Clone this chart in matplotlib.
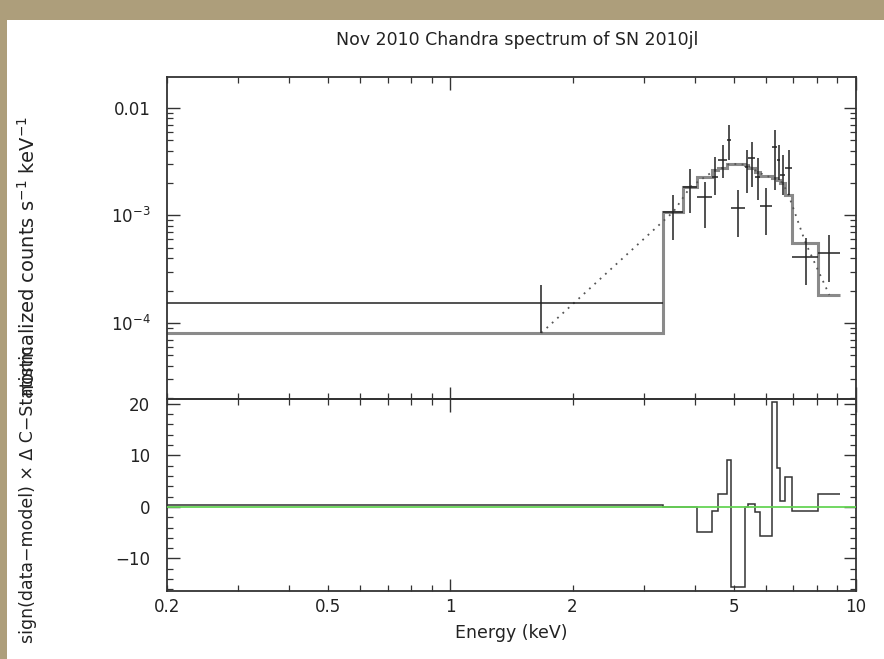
import numpy as np
import matplotlib
matplotlib.use("Agg")
import matplotlib.pyplot as plt
from matplotlib.ticker import FixedLocator, FuncFormatter, LogLocator, NullFormatter, MultipleLocator
from matplotlib.patches import Rectangle

# spectral bins (keV), first bin starts well below the plotted range
bin_edges = [0.01, 3.34, 3.75, 4.06, 4.42, 4.57, 4.81, 4.92, 5.33, 5.42,
             5.64, 5.80, 6.21, 6.39, 6.50, 6.68, 6.96, 8.06, 9.13]
# normalized counts s^-1 keV^-1
rate    = [1.53e-4, 1.08e-3, 1.84e-3, 1.49e-3, 2.28e-3, 3.28e-3, 5.04e-3, 1.17e-3, 2.83e-3,
           3.43e-3, 2.28e-3, 1.23e-3, 4.34e-3, 3.28e-3, 2.38e-3, 2.77e-3, 4.11e-4, 4.48e-4]
rate_hi = [2.26e-4, 1.55e-3, 2.71e-3, 2.05e-3, 3.50e-3, 4.53e-3, 6.95e-3, 1.73e-3, 4.07e-3,
           4.83e-3, 3.43e-3, 1.80e-3, 6.24e-3, 4.53e-3, 3.65e-3, 4.07e-3, 6.18e-4, 6.60e-4]
rate_lo = [8.10e-5, 5.90e-4, 1.05e-3, 7.65e-4, 1.55e-3, 2.23e-3, 3.28e-3, 6.30e-4, 1.62e-3,
           1.84e-3, 1.39e-3, 6.60e-4, 1.73e-3, 2.14e-3, 1.55e-3, 1.55e-3, 2.26e-4, 2.40e-4]
model   = [8.07e-5, 1.08e-3, 1.84e-3, 2.28e-3, 2.65e-3, 2.77e-3, 3.01e-3, 3.01e-3, 2.95e-3,
           2.77e-3, 2.54e-3, 2.33e-3, 2.23e-3, 2.14e-3, 2.00e-3, 1.55e-3, 5.55e-4, 1.82e-4]
# sign(data-model) x delta C-statistic
resid   = [0.35, 0.0, 0.0, -4.8, -0.8, 2.5, 9.1, -15.6, 0.0,
           0.6, -1.0, -5.7, 20.4, 7.5, 1.2, 5.8, -0.8, 2.4]

edges = np.array(bin_edges)
centers = 0.5*(edges[:-1] + edges[1:])
rate = np.array(rate)
yerr = [rate - np.array(rate_lo), np.array(rate_hi) - rate]
xerr = [centers - edges[:-1], edges[1:] - centers]

txt = '#222222'
plt.rcParams['font.family'] = 'DejaVu Sans'

fig = plt.figure(figsize=(8.84, 6.59), dpi=100)
fig.patch.set_facecolor('#ad9e7b')
fig.patches.append(Rectangle((7/884, 0), 1, 1-20/659, transform=fig.transFigure,
                             facecolor='white', edgecolor='none', zorder=-5))

L, W = 167/884, 689/884
ax1 = fig.add_axes([L, 1-399/659, W, 322/659])
ax2 = fig.add_axes([L, 1-591/659, W, 192/659], sharex=ax1)
ax1.patch.set_alpha(0)
ax2.patch.set_alpha(0)

# --- spectrum
ax1.stairs(model, edges, baseline=None, color='#8a8a8a', linewidth=2.2, zorder=2)
ax1.plot(centers, model, linestyle=(0, (1, 3)), color='#555555', linewidth=1.3, zorder=2)
ax1.errorbar(centers, rate, xerr=xerr, yerr=yerr, fmt='none', ecolor='#222222',
             elinewidth=1.1, capsize=0, zorder=3)
ax1.set_yscale('log')
ax1.set_ylim(1.96e-5, 0.0194)
ax1.yaxis.set_major_locator(FixedLocator([1e-4, 1e-3, 1e-2]))
ax1.yaxis.set_major_formatter(FuncFormatter(
    lambda v, p: {1e-4: r'$10^{-4}$', 1e-3: r'$10^{-3}$', 1e-2: '0.01'}.get(v, '')))
ax1.yaxis.set_minor_locator(LogLocator(base=10, subs=np.arange(2, 10)))
ax1.yaxis.set_minor_formatter(NullFormatter())

# --- residuals
ax2.axhline(0, color='#66d455', linewidth=1.3, zorder=3)
ax2.stairs(resid, edges, baseline=None, color='#333333', linewidth=1.1, zorder=2)
ax2.set_ylim(-16.3, 20.9)
ax2.yaxis.set_major_locator(FixedLocator([-10, 0, 10, 20]))
ax2.yaxis.set_minor_locator(MultipleLocator(2))

ax2.set_xscale('log')
ax2.set_xlim(0.2, 10)
xlab = {0.2: '0.2', 0.5: '0.5', 1: '1', 2: '2', 5: '5', 10: '10'}
for ax in (ax1, ax2):
    ax.xaxis.set_major_locator(FixedLocator([1, 10]))
    ax.xaxis.set_minor_locator(FixedLocator([0.2, 0.3, 0.4, 0.5, 0.6, 0.7, 0.8, 0.9,
                                             2, 3, 4, 5, 6, 7, 8, 9]))
    ax.tick_params(which='both', direction='in', top=True, right=True,
                   color='#333333', labelcolor=txt, labelsize=12)
    ax.tick_params(which='major', length=9, width=1.0)
    ax.tick_params(which='minor', length=4.5, width=0.9)
    ax.tick_params(axis='y', which='both', pad=12)
    ax.tick_params(axis='x', which='both', pad=5)
    for s in ax.spines.values():
        s.set_linewidth(1.3)
        s.set_color('#333333')

ax2.xaxis.set_major_formatter(FuncFormatter(lambda v, p: xlab.get(round(v, 1), '')))
ax2.xaxis.set_minor_formatter(FuncFormatter(lambda v, p: xlab.get(round(v, 1), '')))
plt.setp(ax1.get_xticklabels(which='both'), visible=False)

fig.text(517/884, 1-40/659, 'Nov 2010 Chandra spectrum of SN 2010jl',
         ha='center', va='center', fontsize=12.5, color=txt)
fig.text(511/884, 1-633/659, 'Energy (keV)', ha='center', va='center',
         fontsize=12.5, color=txt)
fig.text(28/884, 1-256/659, r'normalized counts s$^{-1}$ keV$^{-1}$', rotation=90,
         ha='center', va='center', fontsize=14, color=txt)
fig.text(28/884, 1-494/659, 'sign(data\u2212model) \u00d7 \u0394 C\u2212Statistic', rotation=90,
         ha='center', va='center', fontsize=12.5, color=txt)

fig.savefig('out.png', dpi=100, facecolor=fig.get_facecolor())
